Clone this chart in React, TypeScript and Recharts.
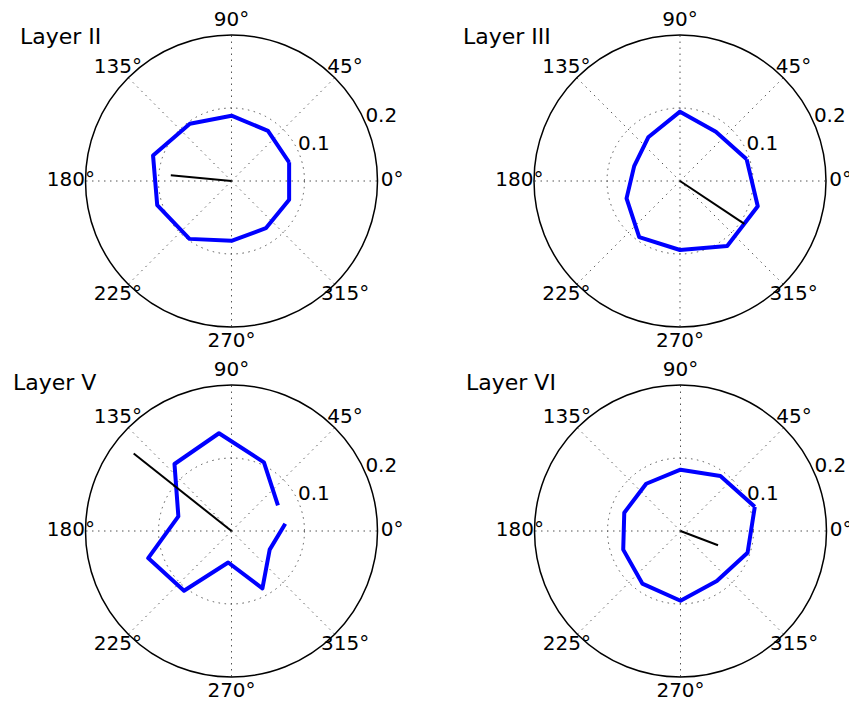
import React from 'react'
import {
  RadarChart,
  PolarGrid,
  PolarAngleAxis,
  ScatterChart,
  Scatter,
  XAxis,
  YAxis
} from 'recharts'

// direction bins (degrees) shared by layers II, III, VI
const binAngles = [18, 54, 90, 126, 162, 198, 234, 270, 306, 342]
const layer2 = [0.083, 0.085, 0.0895, 0.097, 0.113, 0.107, 0.098, 0.082, 0.080, 0.083]
const layer3 = [0.096, 0.0835, 0.095, 0.074, 0.066, 0.077, 0.095, 0.0945, 0.110, 0.112]
const layer6 = [0.107, 0.093, 0.084, 0.080, 0.081, 0.0825, 0.089, 0.0955, 0.0846, 0.0966]

// layer V is an open trace with its own angles
const layer5Angles = [28.8, 64.7, 97.3, 130.4, 164.6, 198, 231.5, 264, 298.3, 334, 367.7]
const layer5 = [0.0726, 0.104, 0.135, 0.1205, 0.0755, 0.12, 0.1045, 0.0434, 0.0893, 0.0582, 0.0743]

// mean vectors
const meanAngles = [174.7, 326.3, 141.6, 339.2]
const meanLengths = [0.0835, 0.106, 0.171, 0.055]

const titles = ['Layer II', 'Layer III', 'Layer V', 'Layer VI']
const angleTicks = ['0°', '45°', '90°', '135°', '180°', '225°', '270°', '315°']
const radiusTicks = [0.1, 0.2]
const radiusLabelAngle = 22.5
const radiusMax = 0.2

const PW = 440
const PH = 351
const R = 146
const FONT = '"DejaVu Sans", sans-serif'

const geos = [
  { left: 0, top: 0, cx: 231.5, cy: 181, tx: 20, ty: 45 },
  { left: 425, top: 0, cx: 255, cy: 181, tx: 38, ty: 45 },
  { left: 0, top: 351, cx: 231.5, cy: 180, tx: 13, ty: 40 },
  { left: 425, top: 351, cx: 255.5, cy: 180, tx: 41, ty: 40 }
]

const angleData = angleTicks.map(label => ({ label }))

const toXY = (angles: number[], radii: number[]) =>
  radii.map((r, i) => ({
    x: r * Math.cos((angles[i] * Math.PI) / 180),
    y: r * Math.sin((angles[i] * Math.PI) / 180)
  }))

const radiusLabelData = radiusTicks.map(r => ({
  ...toXY([radiusLabelAngle], [r])[0],
  label: r.toFixed(1)
}))

const noDot = () => <g />

const radiusLabel = (props: any) => (
  <text x={props.cx - 1} y={props.cy - 3} textAnchor="start" fontFamily={FONT} fontSize={20} fill="#000">
    {props.payload.label}
  </text>
)

function Panel({ idx, angles, radii, closed }: { idx: number; angles: number[]; radii: number[]; closed: boolean }) {
  const { left, top, cx, cy, tx, ty } = geos[idx]
  const pts = toXY(angles, radii)
  const trace = closed ? [...pts, pts[0]] : pts
  const mean = [{ x: 0, y: 0 }, ...toXY([meanAngles[idx]], [meanLengths[idx]])]

  const angleTick = (props: any) => {
    const label = String(props.payload.value)
    const a = (parseFloat(label) * Math.PI) / 180
    const lr = R * 1.1
    return (
      <text
        x={cx + lr * Math.cos(a)}
        y={cy - lr * Math.sin(a) - 2}
        dy="0.36em"
        textAnchor="middle"
        fontFamily={FONT}
        fontSize={20}
        fill="#000"
      >
        {label}
      </text>
    )
  }

  const margin = { top: cy - R, left: cx - R, right: PW - cx - R, bottom: PH - cy - R }

  return (
    <div style={{ position: 'absolute', left, top, width: PW, height: PH }}>
      <div style={{ position: 'absolute', left: 0, top: 0 }}>
        <RadarChart
          width={PW}
          height={PH}
          cx={cx}
          cy={cy}
          innerRadius={0}
          outerRadius={R}
          startAngle={0}
          endAngle={360}
          data={angleData}
          margin={{ top: 0, right: 0, bottom: 0, left: 0 }}
        >
          <PolarGrid
            gridType="circle"
            polarRadius={[(R * radiusTicks[0]) / radiusMax]}
            stroke="#555"
            strokeWidth={1}
            strokeDasharray="1.5 4.5"
            fill="none"
          />
          <PolarGrid gridType="circle" radialLines={false} polarRadius={[R]} stroke="#000" strokeWidth={1.5} fill="none" />
          <PolarAngleAxis dataKey="label" axisLine={false} tickLine={false} tick={angleTick} />
        </RadarChart>
      </div>
      <div style={{ position: 'absolute', left: 0, top: 0 }}>
        <ScatterChart width={PW} height={PH} margin={margin}>
          <XAxis type="number" dataKey="x" domain={[-radiusMax, radiusMax]} hide />
          <YAxis type="number" dataKey="y" domain={[-radiusMax, radiusMax]} hide />
          <Scatter
            data={trace}
            shape={noDot}
            line={{ stroke: '#0000ff', strokeWidth: 4, strokeLinejoin: 'round' }}
            lineJointType="linear"
            isAnimationActive={false}
          />
          <Scatter
            data={mean}
            shape={noDot}
            line={{ stroke: '#000', strokeWidth: 2 }}
            lineJointType="linear"
            isAnimationActive={false}
          />
          <Scatter data={radiusLabelData} shape={radiusLabel} isAnimationActive={false} />
        </ScatterChart>
      </div>
      <div
        style={{
          position: 'absolute',
          left: tx,
          top: ty - 18.6,
          fontFamily: FONT,
          fontSize: 22,
          lineHeight: '22px',
          color: '#000',
          whiteSpace: 'nowrap'
        }}
      >
        {titles[idx]}
      </div>
    </div>
  )
}

export default function App() {
  return (
    <div style={{ position: 'absolute', left: 0, top: 0, width: 849, height: 702, background: '#fff', overflow: 'hidden' }}>
      <Panel idx={0} angles={binAngles} radii={layer2} closed />
      <Panel idx={1} angles={binAngles} radii={layer3} closed />
      <Panel idx={2} angles={layer5Angles} radii={layer5} closed={false} />
      <Panel idx={3} angles={binAngles} radii={layer6} closed />
    </div>
  )
}
